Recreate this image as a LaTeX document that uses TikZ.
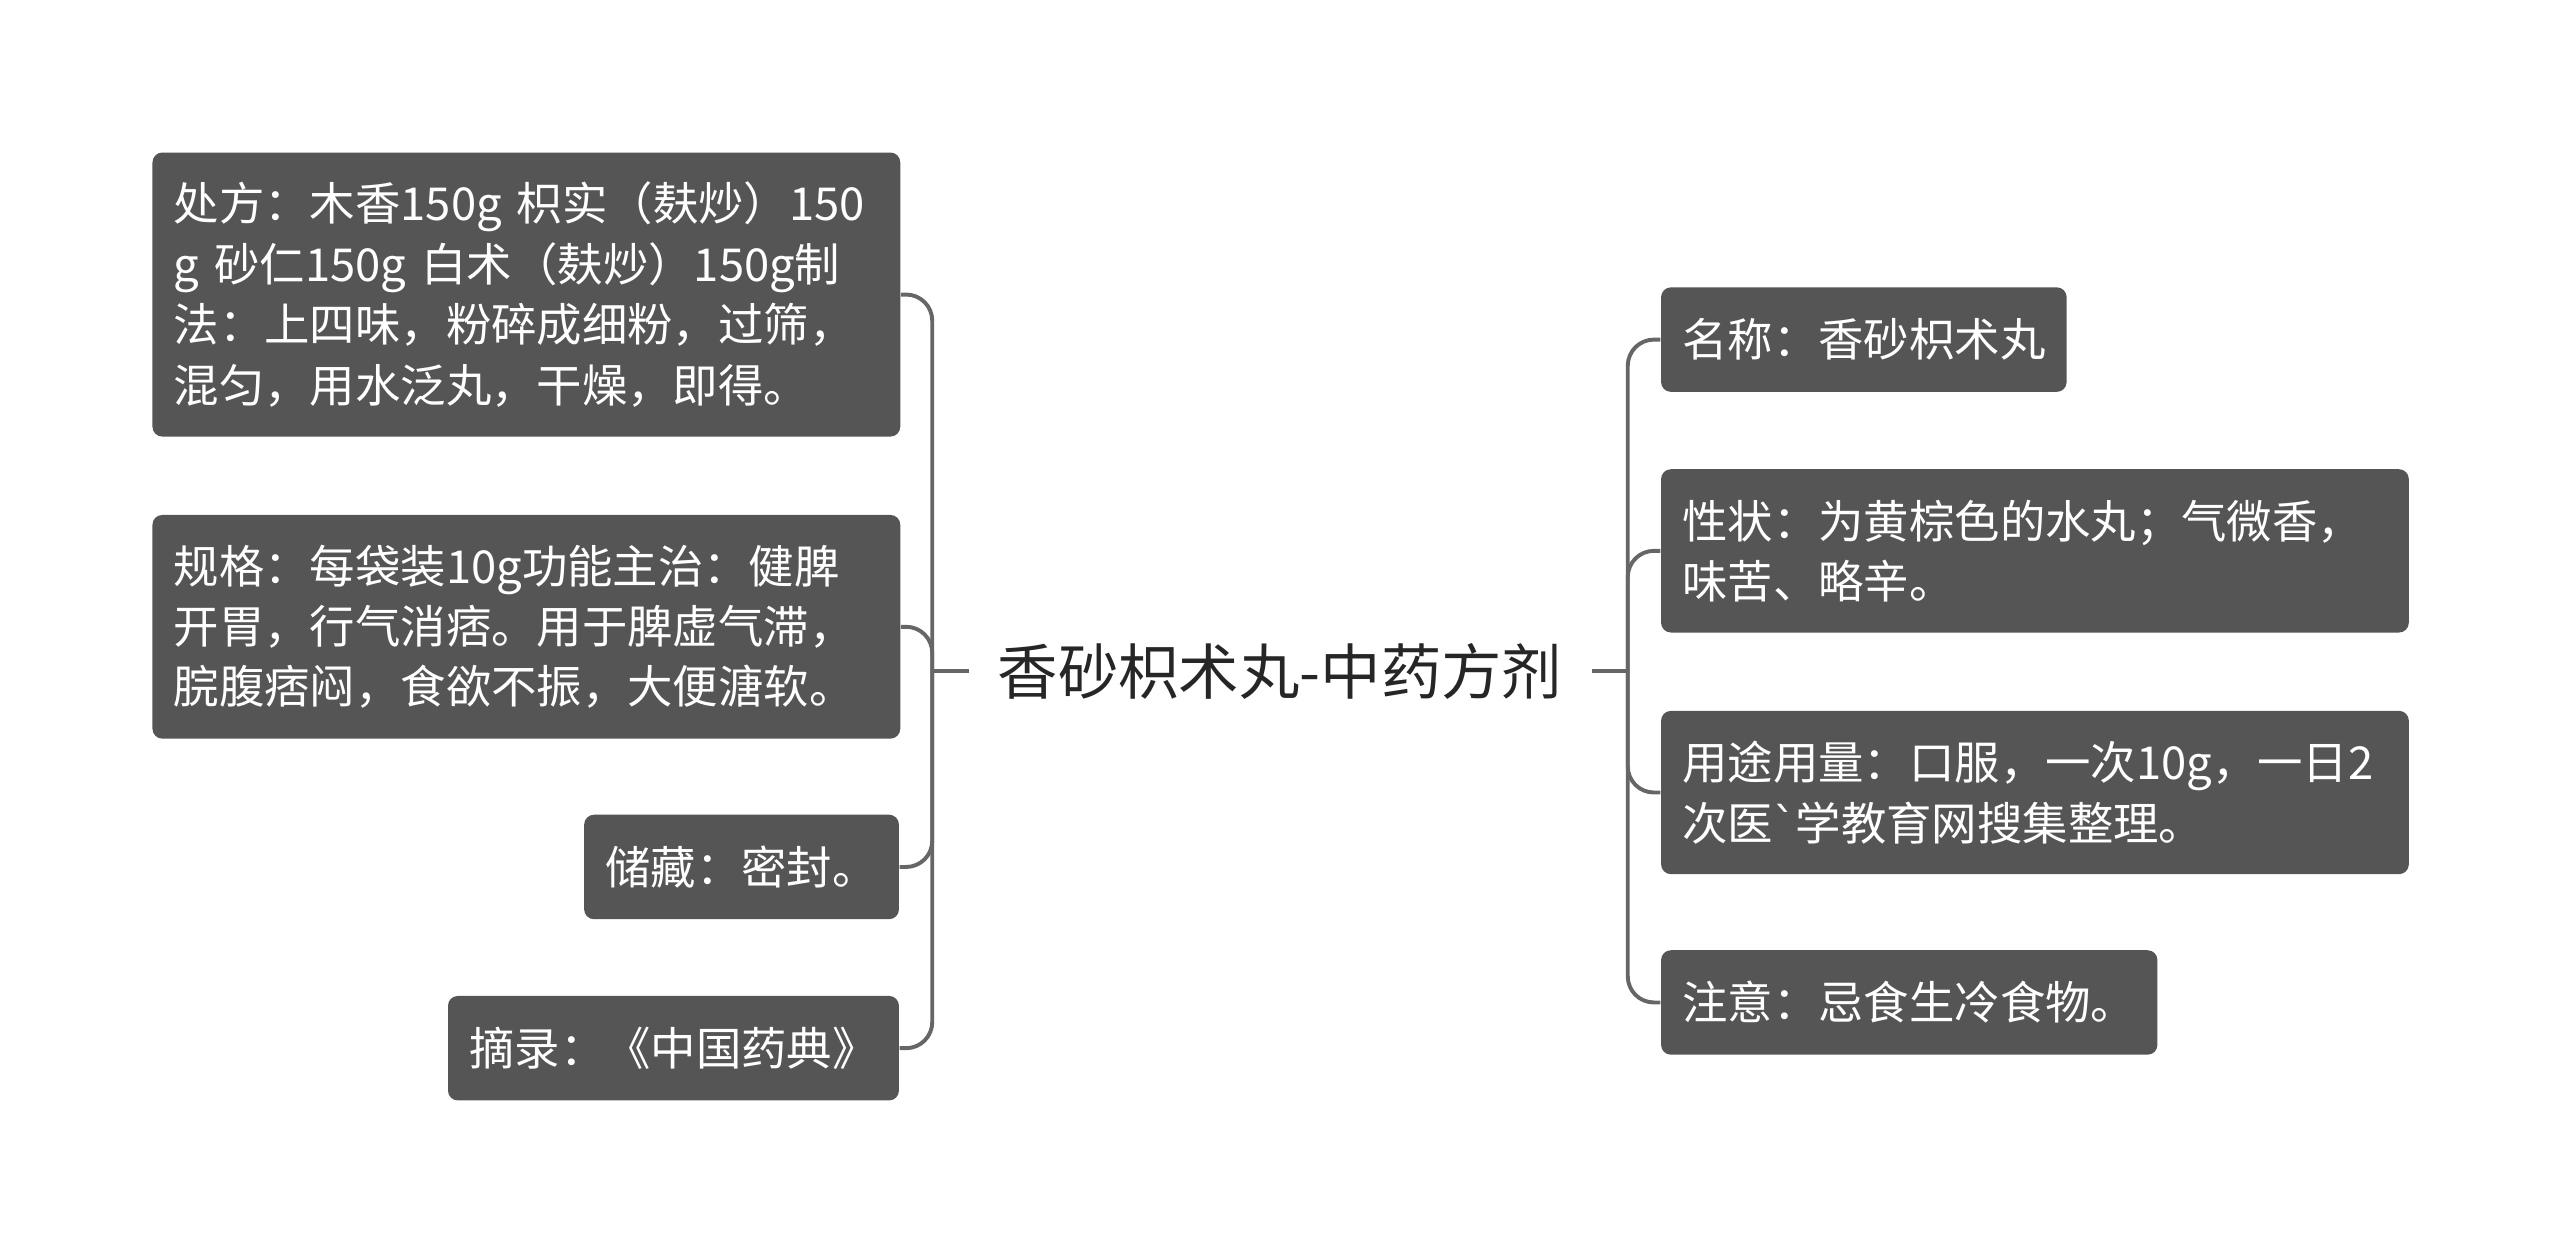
\documentclass[tikz,border=0pt]{standalone}
\usepackage{fontspec}
\setmainfont{Noto Sans CJK SC}
\newfontfamily\dvfont{DejaVu Sans}
\begin{document}
\begin{tikzpicture}[x=0.5pt,y=-0.5pt,
  box/.style={fill=boxc,rounded corners=3pt,text=white,align=left,inner xsep=6.5pt,inner ysep=5pt,
    font=\fontsize{13.9}{18.5}\selectfont},
  link/.style={draw=linec,line width=1.2pt,rounded corners=8pt}]
\definecolor{boxc}{HTML}{555555}
\definecolor{linec}{HTML}{666666}
\useasboundingbox (0,0) rectangle (1568,767);
\node[font=\fontsize{18.5}{20}\selectfont,text=black!85,inner sep=0pt] (root) at (784,411) {香砂枳术丸-中药方剂};
% left
\node[box,anchor=north west,minimum width=229pt,minimum height=87pt,text width=216pt] (l1) at (93,93)
 {处方：木香150g 枳实（麸炒）150\\g 砂仁150g 白术（麸炒）150g制\\法：上四味，粉碎成细粉，过筛，\\混匀，用水泛丸，干燥，即得。};
\node[box,anchor=north west,minimum width=229pt,minimum height=68.5pt,text width=216pt] (l2) at (93,315)
 {规格：每袋装10g功能主治：健脾\\开胃，行气消痞。用于脾虚气滞，\\脘腹痞闷，食欲不振，大便溏软。};
\node[box,anchor=east,minimum height=32pt] (l3) at (551,531) {储藏：密封。};
\node[box,anchor=east,minimum height=32pt] (l4) at (551,642) {摘录：《中国药典》};
% right
\node[box,anchor=west,minimum height=32pt] (r1) at (1017,208) {名称：香砂枳术丸};
\node[box,anchor=north west,minimum width=229pt,minimum height=50pt,text width=216pt] (r2) at (1017,287)
 {性状：为黄棕色的水丸；气微香，\\味苦、略辛。};
\node[box,anchor=north west,minimum width=229pt,minimum height=50pt,text width=216pt] (r3) at (1017,435)
 {用途用量：口服，一次10g，一日2\\次医{\dvfont\char"60}学教育网搜集整理。};
\node[box,anchor=west,minimum height=32pt] (r4) at (1017,614) {注意：忌食生冷食物。};
% connectors
\coordinate (ls) at (571,411);
\coordinate (rs) at (997,411);
\draw[link] (root.west) ++(-17,0) -- (ls);
\draw[link] (root.east) ++(18,0) -- (rs);
\foreach \n in {l1,l2,l3,l4} \draw[link] (ls) |- (\n.east);
\foreach \n in {r1,r2,r3,r4} \draw[link] (rs) |- (\n.west);
\end{tikzpicture}
\end{document}
